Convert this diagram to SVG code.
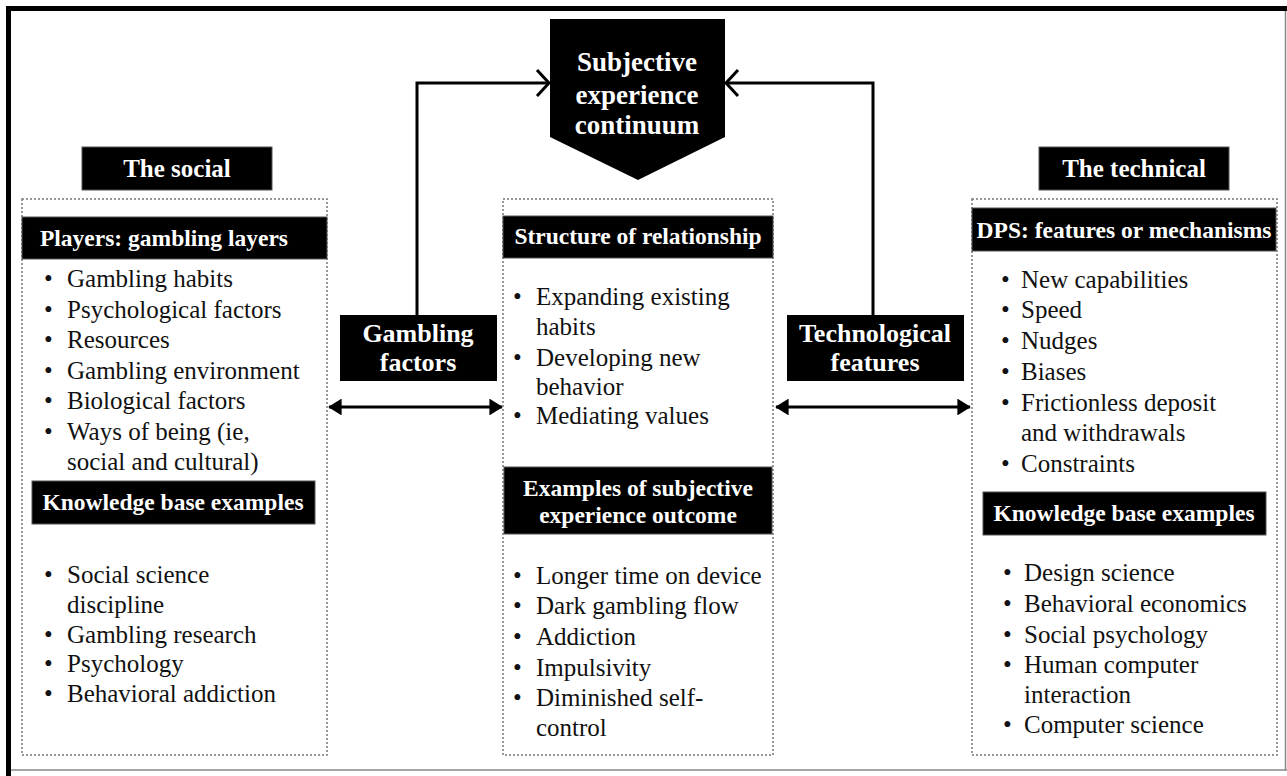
<svg xmlns="http://www.w3.org/2000/svg" width="1287" height="776" viewBox="0 0 1287 776">
<style>
.frame{fill:#000}
.dot{fill:none;stroke:#777;stroke-width:1.5;stroke-dasharray:2 2}
.hdr{fill:#000;stroke:#555;stroke-width:1}
.ht{font-family:"Liberation Serif","Times New Roman",serif;font-weight:bold;fill:#fff;font-size:23.5px;text-anchor:middle}
.tt{font-family:"Liberation Serif","Times New Roman",serif;font-weight:bold;fill:#fff;font-size:25px;text-anchor:middle}
.bt{font-family:"Liberation Serif","Times New Roman",serif;fill:#111;font-size:25px}
.ln{fill:none;stroke:#000;stroke-width:3}
</style>
<defs>
<marker id="tri" viewBox="0 0 8 10" refX="7.5" refY="5" markerWidth="4.5" markerHeight="5.6" orient="auto-start-reverse" markerUnits="strokeWidth">
<path d="M0,0 L8,5 L0,10 z" fill="#000"/>
</marker>
</defs>
<rect width="1287" height="776" fill="#fff"/>
<g id="frame">
<rect class="frame" x="6" y="6" width="1281" height="5"/>
<rect class="frame" x="6" y="6" width="5" height="770"/>
<line x1="11" y1="770" x2="1287" y2="770" stroke="#888" stroke-width="1.5"/>
<line x1="1285.5" y1="11" x2="1285.5" y2="770" stroke="#888" stroke-width="1.5"/>
</g>
<g id="connectors">
<polyline class="ln" points="417,315 417,83 549,83"/>
<polyline class="ln" points="537,70 549,83 537,96"/>
<polyline class="ln" points="873,315 873,83 726,83"/>
<polyline class="ln" points="738,70 726,83 738,96"/>
<line class="ln" x1="329" y1="407" x2="502" y2="407" marker-start="url(#tri)" marker-end="url(#tri)"/>
<line class="ln" x1="776" y1="407" x2="970" y2="407" marker-start="url(#tri)" marker-end="url(#tri)"/>
</g>
<g id="continuum">
<polygon points="550,19 725,19 725,137 638,180 550,137" fill="#000"/>
<text class="tt" style="font-size:27px" x="637" y="71">Subjective</text>
<text class="tt" style="font-size:27px" x="637" y="104">experience</text>
<text class="tt" style="font-size:27px" x="637" y="134">continuum</text>
</g>
<g id="gambling-factors">
<rect x="340" y="315" width="157" height="66" fill="#000"/>
<text class="tt" style="font-size:26px" x="418" y="342">Gambling</text>
<text class="tt" style="font-size:26px" x="418" y="371">factors</text>
</g>
<g id="technological-features">
<rect x="787" y="315" width="177" height="66" fill="#000"/>
<text class="tt" style="font-size:26px" x="875" y="342">Technological</text>
<text class="tt" style="font-size:26px" x="875" y="371">features</text>
</g>
<g id="social">
<rect class="hdr" x="82" y="147" width="190" height="43"/>
<text class="tt" x="177" y="177">The social</text>
<rect class="dot" x="22" y="199" width="305" height="556"/>
<rect class="hdr" x="22" y="217" width="305" height="42"/>
<text class="ht" x="164" y="246">Players: gambling layers</text>
<g class="bt">
<text x="44" y="287">•</text><text x="67" y="287">Gambling habits</text>
<text x="44" y="318">•</text><text x="67" y="318">Psychological factors</text>
<text x="44" y="348">•</text><text x="67" y="348">Resources</text>
<text x="44" y="379">•</text><text x="67" y="379">Gambling environment</text>
<text x="44" y="409">•</text><text x="67" y="409">Biological factors</text>
<text x="44" y="440">•</text><text x="67" y="440">Ways of being (ie,</text>
<text x="67" y="470">social and cultural)</text>
</g>
<rect class="hdr" x="32" y="481" width="283" height="43"/>
<text class="ht" x="173" y="510">Knowledge base examples</text>
<g class="bt">
<text x="44" y="583">•</text><text x="67" y="583">Social science</text>
<text x="67" y="613">discipline</text>
<text x="44" y="643">•</text><text x="67" y="643">Gambling research</text>
<text x="44" y="672">•</text><text x="67" y="672">Psychology</text>
<text x="44" y="702">•</text><text x="67" y="702">Behavioral addiction</text>
</g>
</g>
<g id="center">
<rect class="dot" x="503" y="199" width="270" height="556"/>
<rect class="hdr" x="503" y="216" width="270" height="42"/>
<text class="ht" x="638" y="244">Structure of relationship</text>
<g class="bt">
<text x="513" y="305">•</text><text x="536" y="305">Expanding existing</text>
<text x="536" y="335">habits</text>
<text x="513" y="366">•</text><text x="536" y="366">Developing new</text>
<text x="536" y="395">behavior</text>
<text x="513" y="424">•</text><text x="536" y="424">Mediating values</text>
</g>
<rect class="hdr" x="504" y="467" width="268" height="67"/>
<text class="ht" x="638" y="496">Examples of subjective</text>
<text class="ht" x="638" y="523">experience outcome</text>
<g class="bt">
<text x="513" y="584">•</text><text x="536" y="584">Longer time on device</text>
<text x="513" y="614">•</text><text x="536" y="614">Dark gambling flow</text>
<text x="513" y="645">•</text><text x="536" y="645">Addiction</text>
<text x="513" y="676">•</text><text x="536" y="676">Impulsivity</text>
<text x="513" y="706">•</text><text x="536" y="706">Diminished self-</text>
<text x="536" y="736">control</text>
</g>
</g>
<g id="technical">
<rect class="hdr" x="1039" y="147" width="190" height="43"/>
<text class="tt" x="1134" y="177">The technical</text>
<rect class="dot" x="972" y="199" width="305" height="556"/>
<rect class="hdr" x="972" y="208" width="304" height="43"/>
<text class="ht" x="1124" y="238">DPS: features or mechanisms</text>
<g class="bt">
<text x="1001" y="288">•</text><text x="1021" y="288">New capabilities</text>
<text x="1001" y="318">•</text><text x="1021" y="318">Speed</text>
<text x="1001" y="349">•</text><text x="1021" y="349">Nudges</text>
<text x="1001" y="380">•</text><text x="1021" y="380">Biases</text>
<text x="1001" y="411">•</text><text x="1021" y="411">Frictionless deposit</text>
<text x="1021" y="441">and withdrawals</text>
<text x="1001" y="472">•</text><text x="1021" y="472">Constraints</text>
</g>
<rect class="hdr" x="983" y="492" width="283" height="43"/>
<text class="ht" x="1124" y="521">Knowledge base examples</text>
<g class="bt">
<text x="1003" y="581">•</text><text x="1024" y="581">Design science</text>
<text x="1003" y="612">•</text><text x="1024" y="612">Behavioral economics</text>
<text x="1003" y="643">•</text><text x="1024" y="643">Social psychology</text>
<text x="1003" y="673">•</text><text x="1024" y="673">Human computer</text>
<text x="1024" y="703">interaction</text>
<text x="1003" y="733">•</text><text x="1024" y="733">Computer science</text>
</g>
</g>
</svg>
